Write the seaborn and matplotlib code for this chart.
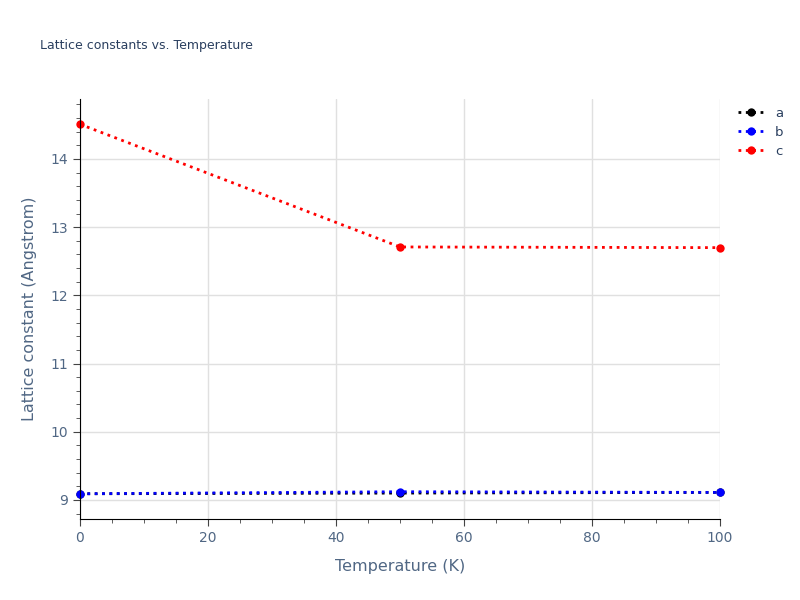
import matplotlib
matplotlib.use("Agg")
import matplotlib.pyplot as plt
import seaborn as sns
import pandas as pd
from matplotlib.ticker import MultipleLocator

temps = [0, 50, 100]
a_vals = [9.09, 9.10, 9.11]
b_vals = [9.09, 9.12, 9.11]
c_vals = [14.51, 12.71, 12.70]
series = ["a", "b", "c"]
colors = ["black", "blue", "red"]

sns.set_style("white")
plt.rcParams['font.family'] = ['DejaVu Sans']
df = pd.concat([pd.DataFrame({"T": temps, "v": v, "s": n}) for n, v in zip(series, [a_vals, b_vals, c_vals])])

fig = plt.figure(figsize=(8, 6), dpi=100)
ax = fig.add_axes([0.1, 0.135, 0.8, 0.7])
for n, col in zip(series, colors):
    d = df[df.s == n]
    sns.lineplot(data=d, x="T", y="v", ax=ax, color=col, linestyle=":", linewidth=2,
                 marker="o", markersize=6, markeredgewidth=0, label=n, clip_on=False)
ax.set_xlim(0, 100)
ax.set_ylim(8.72, 14.88)
ax.xaxis.set_major_locator(MultipleLocator(20))
ax.xaxis.set_minor_locator(MultipleLocator(5))
ax.yaxis.set_major_locator(MultipleLocator(1))
ax.yaxis.set_minor_locator(MultipleLocator(0.2))
ax.grid(True, which="major", color="#e0e0e0", linewidth=1)
for s in ["top", "right"]:
    ax.spines[s].set_visible(False)
for s in ["left", "bottom"]:
    ax.spines[s].set_color("black")
ax.tick_params(which="major", direction="out", length=5, color="#444", labelsize=10, labelcolor="#506784", bottom=True, left=True)
ax.tick_params(which="minor", direction="out", length=3, color="#444", bottom=True, left=True)
ax.set_xlabel("Temperature (K)", fontsize=11.5, color="#506784", labelpad=10)
ax.set_ylabel("Lattice constant (Angstrom)", fontsize=11.5, color="#506784", labelpad=10)
fig.text(0.05, 0.918, "Lattice constants vs. Temperature", fontsize=9, color="#2a3f5f")
leg = ax.legend(loc="upper left", bbox_to_anchor=(1.01, 1.01), frameon=False, fontsize=9.5,
                handlelength=2, labelspacing=0.45)
for t in leg.get_texts():
    t.set_color("#2a3f5f")
fig.savefig("out.png", dpi=100)
